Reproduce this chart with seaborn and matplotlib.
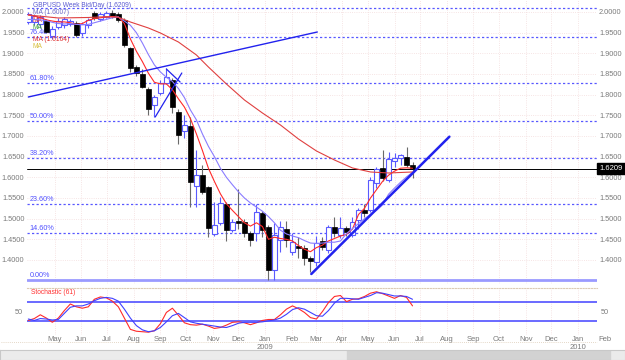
import numpy as np
import pandas as pd
import seaborn as sns
import matplotlib.pyplot as plt
import matplotlib.transforms as mtransforms

# weekly GBPUSD bars
week_start = "2008-03-31"
opens = [1.976, 1.975, 1.970, 1.977, 1.941, 1.964, 1.968, 1.972, 1.973, 1.948, 1.968, 1.997, 1.984, 1.989, 1.998, 1.995,
         1.980, 1.912, 1.866, 1.850, 1.814, 1.775, 1.805, 1.829, 1.835, 1.759, 1.713, 1.725, 1.579, 1.605, 1.577, 1.463,
         1.490, 1.535, 1.473, 1.494, 1.493, 1.465, 1.465, 1.513, 1.481, 1.376, 1.448, 1.474, 1.420, 1.435, 1.430, 1.404,
         1.394, 1.446, 1.424, 1.480, 1.460, 1.477, 1.460, 1.497, 1.521, 1.521, 1.586, 1.622, 1.594, 1.640, 1.646, 1.650, 1.630]
closes = [1.995, 1.990, 1.988, 1.952, 1.960, 1.979, 1.983, 1.978, 1.945, 1.972, 1.980, 1.985, 1.995, 1.998, 1.990, 1.980,
          1.920, 1.864, 1.852, 1.819, 1.765, 1.794, 1.829, 1.843, 1.771, 1.702, 1.727, 1.589, 1.605, 1.565, 1.477, 1.485,
          1.539, 1.473, 1.493, 1.490, 1.465, 1.448, 1.517, 1.473, 1.376, 1.460, 1.479, 1.448, 1.444, 1.428, 1.404, 1.397,
          1.442, 1.432, 1.481, 1.465, 1.477, 1.468, 1.493, 1.521, 1.514, 1.594, 1.619, 1.598, 1.644, 1.646, 1.654, 1.630, 1.6209]
highs = [1.999, 1.995, 1.993, 1.982, 1.965, 1.985, 1.987, 1.984, 1.978, 1.976, 1.985, 2.002, 1.999, 2.003, 2.005, 2.000,
         1.985, 1.915, 1.872, 1.862, 1.818, 1.800, 1.835, 1.864, 1.840, 1.765, 1.750, 1.745, 1.666, 1.630, 1.580, 1.540,
         1.553, 1.540, 1.500, 1.572, 1.498, 1.470, 1.535, 1.518, 1.485, 1.490, 1.495, 1.495, 1.465, 1.455, 1.436, 1.410,
         1.458, 1.455, 1.485, 1.505, 1.503, 1.482, 1.505, 1.525, 1.535, 1.600, 1.625, 1.666, 1.662, 1.660, 1.657, 1.674, 1.637]
lows = [1.970, 1.968, 1.962, 1.948, 1.935, 1.958, 1.962, 1.965, 1.940, 1.943, 1.962, 1.980, 1.978, 1.985, 1.985, 1.975,
        1.915, 1.856, 1.846, 1.815, 1.750, 1.745, 1.800, 1.825, 1.755, 1.680, 1.695, 1.528, 1.528, 1.560, 1.455, 1.458,
        1.485, 1.445, 1.468, 1.475, 1.455, 1.435, 1.445, 1.455, 1.352, 1.352, 1.420, 1.432, 1.412, 1.405, 1.388, 1.372,
        1.385, 1.425, 1.418, 1.455, 1.452, 1.458, 1.455, 1.475, 1.505, 1.515, 1.575, 1.590, 1.588, 1.625, 1.630, 1.625, 1.598]

fast_ma = [1.993, 1.990, 1.986, 1.981, 1.978, 1.976, 1.976, 1.974, 1.970, 1.972, 1.980, 1.984, 1.986, 1.988, 1.989, 1.988,
           1.972, 1.935, 1.905, 1.880, 1.852, 1.830, 1.826, 1.826, 1.812, 1.790, 1.770, 1.742, 1.705, 1.665, 1.622, 1.590,
           1.560, 1.536, 1.520, 1.505, 1.490, 1.482, 1.490, 1.481, 1.450, 1.455, 1.452, 1.450, 1.446, 1.435, 1.426, 1.420,
           1.430, 1.436, 1.446, 1.452, 1.458, 1.462, 1.475, 1.510, 1.525, 1.550, 1.570, 1.590, 1.605, 1.615, 1.622, 1.623, 1.622]
mid_ma = [1.982, 1.982, 1.981, 1.979, 1.975, 1.972, 1.971, 1.972, 1.970, 1.969, 1.970, 1.974, 1.978, 1.982, 1.986, 1.988,
          1.978, 1.968, 1.950, 1.925, 1.897, 1.872, 1.855, 1.842, 1.832, 1.815, 1.793, 1.763, 1.739, 1.705, 1.675, 1.650,
          1.622, 1.600, 1.582, 1.565, 1.550, 1.538, 1.528, 1.518, 1.505, 1.490, 1.472, 1.463, 1.458, 1.454, 1.447, 1.441,
          1.440, 1.441, 1.443, 1.443, 1.446, 1.464, 1.476, 1.488, 1.500, 1.510, 1.520, 1.533, 1.559, 1.574, 1.588, 1.601, 1.612]
slow_ma_weeks = [0, 5, 10, 13, 15, 17, 20, 22, 25, 28, 30, 33, 36, 39, 42, 45, 48, 51, 54, 57, 60, 64]
slow_ma = [1.9927, 1.9855, 1.9867, 1.9886, 1.9872, 1.9758, 1.9613, 1.9492, 1.9274, 1.8960, 1.8669, 1.8258,
           1.7871, 1.7556, 1.7266, 1.6927, 1.6637, 1.6419, 1.6226, 1.6129, 1.6105, 1.6129]

stoch_k = [31, 35, 43, 36, 27, 36, 52, 66, 60, 57, 60, 76, 81, 79, 72, 60, 36, 12, 8, 7, 6, 9, 24, 48, 57, 42, 26, 22,
           21, 23, 19, 14, 16, 21, 27, 28, 26, 22, 26, 31, 33, 33, 43, 55, 62, 56, 48, 37, 34, 50, 69, 82, 84, 71, 76, 77,
           82, 89, 92, 88, 83, 78, 84, 80, 62]
stoch_d = [34, 31, 35, 34, 32, 33, 46, 59, 62, 62, 66, 73, 78, 80, 78, 72, 55, 36, 20, 11, 7, 9, 16, 28, 41, 46, 37, 28,
           25, 23, 21, 19, 17, 16, 20, 25, 27, 27, 27, 28, 30, 32, 36, 44, 54, 58, 55, 48, 41, 40, 52, 68, 78, 78, 77, 76,
           80, 84, 90, 89, 86, 83, 83, 82, 76]

fib_labels = ["0.00%", "14.60%", "23.60%", "38.20%", "50.00%", "61.80%", "76.40%"]
fib_levels = [1.3516, 1.4653, 1.5355, 1.6468, 1.7363, 1.8282, 1.9395]
top_level = 2.0097
last_price = 1.6209

trend_lines = [
    (["2008-03-31", "2009-03-03"], [1.7943, 1.9516], 1.0),
    (["2008-08-26", "2008-09-26"], [1.746, 1.8524], 0.9),
    (["2008-09-08", "2008-09-24"], [1.862, 1.8306], 0.9),
    (["2009-02-24", "2009-08-04"], [1.3661, 1.6983], 1.8),
]

legend_lines = [
    ("GBPUSD Week Bid/Day (1.6209)", "#5a5ad0", 5),
    ("MA (1.6007)", "#6a6ac8", 12.5),
    ("MA", "#e04040", 20),
    ("MA", "#40a040", 27),
    ("MA (1.6164)", "#e03030", 39),
    ("MA", "#d8c040", 46.5),
]

dates = pd.date_range(week_start, periods=len(opens), freq="7D")
month_ticks = pd.date_range("2008-05-01", "2010-01-01", freq="MS")

sns.set_style("white")
plt.rcParams['font.family'] = ['Liberation Sans', 'DejaVu Sans']

fig = plt.figure(figsize=(6.25, 3.6), dpi=100)
ax = fig.add_axes([0.04256, 0.21111, 0.91248, 0.78889])
sx = fig.add_axes([0.04256, 0.06944, 0.91248, 0.13056], sharex=ax)

grid_col = "#f3dcdc"
blue = "#5858ff"
label_col = "#7a7a7a"

# reference levels
for lv in fib_levels[1:] + [top_level]:
    ax.axhline(lv, color=blue, lw=0.9, ls=(0, (1.8, 1.8)), zorder=1)
ax.axhline(fib_levels[0], color="#9a9aff", lw=2, zorder=1)
ax.axhline(last_price, color="black", lw=0.7, zorder=1)
lab_tr = mtransforms.blended_transform_factory(ax.transAxes, ax.transData)
for lab, lv in zip(fib_labels, fib_levels):
    ax.text(0.005, lv + 0.002, lab, transform=lab_tr, color="#5050ff", fontsize=5.2, va="bottom", ha="left")

# candles
o = np.array(opens); c = np.array(closes); h = np.array(highs); l = np.array(lows)
up = c >= o
ax.vlines(dates[~up], l[~up], h[~up], color="#6a6a6a", lw=0.8, zorder=2)
ax.vlines(dates[up], l[up], h[up], color="#5a5aff", lw=0.8, zorder=2)
ax.bar(dates[~up], (o - c)[~up], bottom=c[~up], width=5.5, color="black", edgecolor="black", lw=0.5, zorder=3)
ax.bar(dates[up], np.maximum((c - o)[up], 0.0008), bottom=o[up], width=5.5, color="white",
       edgecolor="#5a5aff", lw=0.8, zorder=3)

# moving averages
sns.lineplot(x=dates, y=fast_ma, ax=ax, color="#ff2a2a", lw=0.8, zorder=4)
sns.lineplot(x=dates, y=mid_ma, ax=ax, color="#8a7cff", lw=0.8, zorder=4)
sns.lineplot(x=dates[slow_ma_weeks], y=slow_ma, ax=ax, color="#e04040", lw=0.8, zorder=4)

for tdates, tprices, lw in trend_lines:
    ax.plot(pd.to_datetime(tdates), tprices, color="#2222ee", lw=lw, zorder=5)

for txt, col, ypx in legend_lines:
    ax.text(0.011, 1 - ypx / 284, txt, transform=ax.transAxes, color=col, fontsize=4.8, va="center", ha="left")

ax.set_xlim(pd.Timestamp("2008-03-29"), pd.Timestamp("2010-01-23"))
ax.set_ylim(1.3419, 2.0290)
yt = np.round(np.arange(1.40, 2.0001, 0.05), 2)
ax.set_yticks(yt)
ax.set_yticklabels([f"{v:.4f}" for v in yt])
ax.tick_params(axis="y", labelleft=True, labelright=True, length=0, pad=1.5, labelsize=5.3, labelcolor=label_col)
ax.tick_params(axis="x", labelbottom=False, length=0)
ax.set_xticks(month_ticks)
ax.grid(True, color=grid_col, ls=":", lw=0.6)
ax.set_axisbelow(True)
ax.set_xlabel(""); ax.set_ylabel("")
for s in ax.spines.values():
    s.set_visible(False)
ax.text(1.004, last_price, f"{last_price:.4f}", transform=lab_tr, color="white", fontsize=5.5, va="center", ha="left",
        bbox=dict(boxstyle="square,pad=0.3", fc="black", ec="black"))

# stochastic panel
sx.axhline(70, color="#5050ff", lw=1.2)
sx.axhline(30, color="#5050ff", lw=1.2)
sns.lineplot(x=dates, y=stoch_k, ax=sx, color="#ff2a2a", lw=0.8)
sns.lineplot(x=dates, y=stoch_d, ax=sx, color="#4040ff", lw=0.8)
sx.set_ylim(0, 100)
sx.set_yticks([50])
sx.set_yticklabels(["50"])
sx.tick_params(axis="y", labelleft=True, labelright=True, length=0, pad=2.5, labelsize=5.3, labelcolor=label_col)
sx.set_xticks(month_ticks)
sx.set_xticklabels([d.strftime("%b") for d in month_ticks])
sx.tick_params(axis="x", length=0, pad=1.0, labelsize=5.5, labelcolor=label_col)
sx.grid(True, axis="x", color=grid_col, ls=":", lw=0.6)
sx.set_xlabel(""); sx.set_ylabel("")
for s in sx.spines.values():
    s.set_visible(False)
sx.spines["top"].set_visible(True)
sx.spines["top"].set_color("#dccbb5")
sx.spines["top"].set_linestyle((0, (1, 1.5)))
sx.text(0.008, 0.9, "Stochastic (61)", transform=sx.transAxes, color="#ff3030", fontsize=4.8, va="center")
xtr = mtransforms.blended_transform_factory(sx.transData, sx.transAxes)
sx.text(pd.Timestamp("2009-01-01"), -0.26, "2009", transform=xtr, ha="center", va="center", fontsize=5.5, color=label_col)
sx.text(pd.Timestamp("2010-01-01"), -0.26, "2010", transform=xtr, ha="center", va="center", fontsize=5.5, color=label_col)
sx.text(pd.Timestamp("2010-02-01"), -0.095, "Feb", transform=xtr, ha="center", va="center", fontsize=5.5,
        color=label_col, clip_on=False)
sx.plot([-0.045, 1.0], [-0.15, -0.15], transform=sx.transAxes, color="#dccbb5", lw=0.6, ls=(0, (1, 1.5)),
        clip_on=False)

# scroll bar strip
sb = fig.add_axes([0, 0, 1, 10 / 360])
sb.set_facecolor("#ebebeb")
sb.axvspan(347 / 625, 610 / 625, color="#d2d2d2")
sb.set_xlim(0, 1)
sb.set_xticks([]); sb.set_yticks([])
for s in sb.spines.values():
    s.set_color("#c8c8c8")

fig.savefig("out.png", dpi=100)
